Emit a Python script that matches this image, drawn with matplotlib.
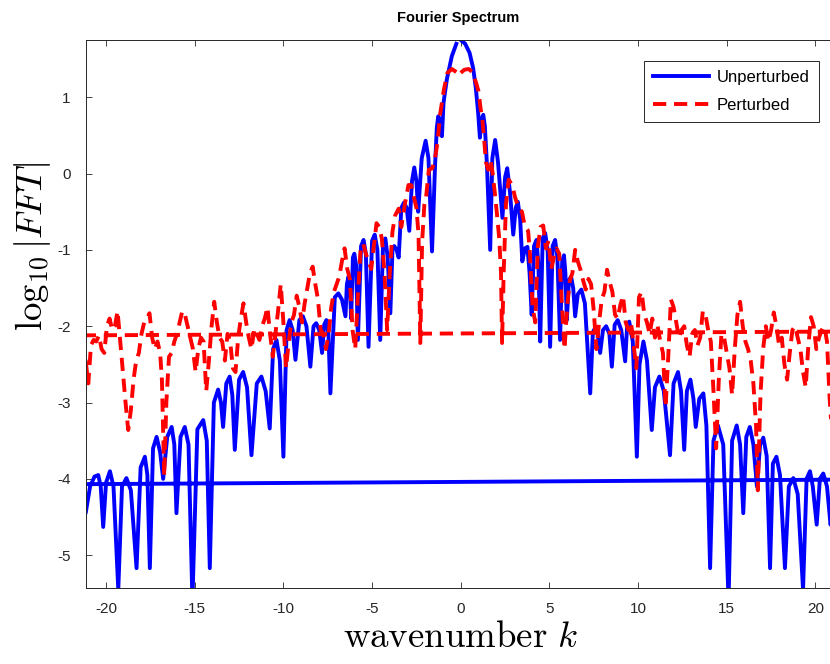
import matplotlib
matplotlib.use("Agg")
import matplotlib.pyplot as plt

# unperturbed spectrum, k >= 0 then k < 0 (fft ordering, so the line wraps)
blue_pos_k = [0.0, 0.25, 0.5, 0.7, 0.85, 0.98, 1.08, 1.18, 1.27, 1.36, 1.48, 1.66, 1.78, 1.94, 2.1,
              2.35, 2.5, 2.62, 2.78, 2.96, 3.1, 3.22, 3.35, 3.47, 3.62, 3.76, 3.88, 4.0, 4.13, 4.27,
              4.38, 4.48, 4.62, 4.76, 4.9, 5.04, 5.18, 5.32, 5.45, 5.6, 5.72, 5.82, 5.9, 5.98, 6.1,
              6.22, 6.34, 6.45, 6.6, 6.8, 7.0, 7.3, 7.45, 7.58, 7.72, 7.86, 8.02, 8.2, 8.38, 8.52,
              8.68, 8.85, 9.05, 9.27, 9.38, 9.5, 9.7, 9.93, 10.08, 10.3, 10.5, 10.77, 10.95, 11.2,
              11.45, 11.8, 12.0, 12.25, 12.42, 12.6, 12.75, 12.95, 13.12, 13.25, 13.45, 13.68, 13.85,
              14.06, 14.25, 14.5, 14.8, 15.1, 15.3, 15.56, 15.75, 15.93, 16.1, 16.3, 16.5, 16.7,
              16.88, 17.06, 17.25, 17.44, 17.6, 17.8, 18.0, 18.28, 18.5, 18.75, 19.0, 19.3, 19.5,
              19.69, 19.85, 20.07, 20.25, 20.44, 20.65, 20.85, 21.3]
blue_pos_v = [1.75, 1.70, 1.58, 1.38, 1.12, 0.80, 0.47, 0.72, 0.77, 0.62, 0.10, -1.00, 0.20, 0.44, 0.15,
              -0.58, -0.05, 0.07, -0.25, -0.80, -0.45, -0.37, -0.60, -1.15, -0.98, -0.96, -1.30, -1.85, -0.95, -0.87,
              -1.20, -2.20, -0.85, -0.78, -1.00, -2.27, -0.95, -0.87, -1.10, -2.18, -1.15, -1.07, -1.30, -1.92, -1.40,
              -1.35, -1.50, -1.87, -1.58, -1.52, -1.70, -2.88, -2.08, -2.02, -2.10, -2.35, -2.05, -2.00, -2.10, -2.53,
              -1.98, -1.92, -2.05, -2.46, -2.00, -1.94, -2.20, -3.71, -2.50, -2.20, -2.45, -3.36, -2.80, -2.66,
              -2.85, -3.69, -2.75, -2.60, -2.85, -3.62, -2.85, -2.70, -2.95, -3.32, -2.95, -2.88, -3.30,
              -5.17, -3.50, -3.30, -3.55, -5.60, -3.50, -3.30, -3.55, -4.45, -3.45, -3.32, -3.55, -4.10,
              -3.55, -3.46, -3.70, -5.17, -3.80, -3.71, -3.95, -5.17, -4.10, -3.99, -4.20, -5.45, -4.00,
              -3.90, -4.10, -4.60, -4.00, -3.93, -4.10, -4.60, -4.01]
blue_neg_k = [-21.5, -21.15, -20.9, -20.65, -20.44, -20.3, -20.16, -20.0, -19.78, -19.58, -19.31, -19.1,
              -18.85, -18.6, -18.28, -18.05, -17.81, -17.67, -17.53, -17.35, -17.15, -16.95, -16.78,
              -16.55, -16.3, -16.15, -16.03, -15.8, -15.56, -15.35, -15.13, -14.85, -14.52, -14.32,
              -14.15, -13.92, -13.68, -13.52, -13.4, -13.22, -13.03, -12.88, -12.74, -12.5, -12.27,
              -12.05, -11.8, -11.5, -11.24, -11.0, -10.77, -10.58, -10.39, -10.2, -10.0, -9.82, -9.65,
              -9.48, -9.32, -9.1, -8.9, -8.7, -8.48, -8.3, -8.15, -7.98, -7.82, -7.7, -7.58, -7.46,
              -7.35, -7.1, -6.9, -6.7, -6.5, -6.42, -6.33, -6.25, -6.18, -6.08, -6.0, -5.9, -5.8,
              -5.62, -5.48, -5.35, -5.2, -5.0, -4.85, -4.7, -4.54, -4.38, -4.25, -4.12, -3.97, -3.85,
              -3.75, -3.62, -3.5, -3.35, -3.2, -3.05, -2.9, -2.75, -2.62, -2.5, -2.4, -2.2, -1.98,
              -1.82, -1.62, -1.45, -1.35, -1.27, -1.17, -1.06, -0.97, -0.78, -0.5, -0.25]
blue_neg_v = [-4.07, -4.45, -4.10, -3.97, -3.95, -4.10, -4.63, -4.05, -3.90, -4.10, -5.45, -4.10,
              -3.99, -4.15, -5.17, -3.85, -3.71, -3.95, -5.17, -3.60, -3.45, -3.65, -4.00,
              -3.45, -3.32, -3.55, -4.45, -3.45, -3.32, -3.55, -5.60, -3.35, -3.23, -3.50,
              -5.17, -3.00, -2.83, -3.00, -3.32, -2.75, -2.66, -2.90, -3.62, -2.70, -2.60,
              -2.80, -3.69, -2.75, -2.66, -2.85, -3.34, -2.30, -2.18, -2.45, -3.71, -2.05, -1.92,
              -2.05, -2.44, -1.92, -1.87, -2.00, -2.53, -2.00, -1.96, -2.05, -2.35, -1.98, -1.92, -2.10,
              -2.88, -1.62, -1.57, -1.65, -1.87, -1.45, -1.35, -1.50, -1.90, -1.10, -1.05, -1.20, -2.18,
              -0.95, -0.87, -1.05, -2.27, -0.88, -0.80, -1.00, -2.18, -0.92, -0.85, -1.10, -1.83, -1.00,
              -0.95, -1.00, -1.10, -0.45, -0.38, -0.45, -0.75, -0.10, 0.08, -0.10, -0.50, 0.20, 0.43,
              0.20, -1.02, 0.10, 0.60, 0.75, 0.70, 0.49, 0.93, 1.24, 1.54, 1.70]

# perturbed spectrum, same ordering
red_pos_k = [0.0, 0.2, 0.45, 0.65, 0.85, 1.0, 1.12, 1.22, 1.32, 1.42,
             1.55, 1.68, 1.8, 1.92, 2.05, 2.17, 2.27, 2.33, 2.42, 2.55,
             2.7, 2.9, 3.05, 3.25, 3.45, 3.62, 3.8,
             3.9, 4.05, 4.2, 4.35, 4.5, 4.65, 4.8, 4.95, 5.1, 5.25,
             5.4, 5.55, 5.7, 5.85, 6.0, 6.15, 6.3, 6.45, 6.6, 6.75,
             6.9, 7.05, 7.2, 7.35, 7.5, 7.65, 7.8, 7.95, 8.1, 8.25,
             8.4, 8.55, 8.7, 8.85, 9.0, 9.15, 9.3, 9.45, 9.6, 9.75,
             9.9, 10.05, 10.2, 10.35, 10.5, 10.65, 10.8, 10.95, 11.1, 11.25,
             11.4, 11.55, 11.7, 11.85, 12.0, 12.15, 12.3, 12.45, 12.6, 12.75,
             12.9, 13.05, 13.2, 13.35, 13.5, 13.65, 13.8, 13.95, 14.1, 14.25,
             14.4, 14.55, 14.7, 14.85, 15.0, 15.15, 15.3, 15.45, 15.6, 15.75,
             15.9, 16.05, 16.2, 16.35, 16.5, 16.65, 16.75, 16.9, 17.05, 17.2,
             17.35, 17.5, 17.65, 17.8, 17.95, 18.1, 18.25, 18.4, 18.55, 18.7,
             18.85, 19.0, 19.15, 19.3, 19.45, 19.6, 19.75, 19.9, 20.05, 20.2,
             20.35, 20.5, 20.65, 20.8, 20.9, 21.3]
red_pos_v = [1.32, 1.36, 1.37, 1.33, 1.20, 1.08, 0.85, 0.70, 0.45, 0.15,
             0.05, 0.18, 0.00, -0.25, -0.55, -0.85, -1.30, -2.22, -1.30, -0.40,
             -0.08, -0.15, -0.30, -0.45, -0.50, -0.70, -0.75,
             -1.05, -1.75, -1.95, -0.95, -0.70, -0.68, -0.98, -0.88, -1.25, -1.10,
             -0.98, -1.05, -1.70, -2.30, -1.75, -1.40, -1.30, -1.00, -1.15, -1.26,
             -1.40, -1.52, -1.38, -1.45, -1.80, -2.30, -1.95, -1.65, -1.55, -1.26,
             -1.42, -1.55, -1.85, -1.90, -1.72, -1.60, -1.95, -2.05, -1.95, -2.25,
             -2.55, -1.62, -1.55, -1.85, -1.95, -2.10, -1.90, -2.15, -2.00, -2.20,
             -2.35, -3.06, -2.40, -1.65, -1.75, -1.95, -2.15, -2.05, -2.00, -2.25,
             -2.40, -2.10, -2.05, -2.25, -2.15, -1.80, -1.85, -2.05, -2.20, -2.85,
             -3.60, -2.70, -2.10, -2.15, -2.35, -2.55, -2.90, -2.30, -1.85, -1.68,
             -2.00, -2.20, -2.30, -2.45, -2.75, -3.30, -4.15, -2.90, -2.30, -2.00,
             -2.20, -2.05, -1.82, -2.00, -2.25, -2.15, -2.50, -2.70, -2.35, -2.05,
             -2.00, -2.15, -2.30, -2.60, -2.80, -2.25, -1.88, -2.00, -2.30, -2.15,
             -2.05, -2.00, -2.20, -2.95, -3.30, -2.07]
red_neg_k = [-21.5, -21.15, -21.0, -20.85, -20.7, -20.55, -20.4, -20.25, -20.1, -19.95,
             -19.8, -19.65, -19.5, -19.35, -19.2, -19.05, -18.9, -18.75, -18.6, -18.45,
             -18.3, -18.15, -18.0, -17.85, -17.7, -17.55, -17.4, -17.25, -17.1, -16.95,
             -16.85, -16.72, -16.6, -16.45, -16.3, -16.15, -16.0, -15.85, -15.7, -15.55,
             -15.4, -15.25, -15.1, -14.95, -14.8, -14.65, -14.5, -14.35, -14.2, -14.05,
             -13.9, -13.75, -13.6, -13.45, -13.3, -13.15, -13.0, -12.85, -12.7, -12.55,
             -12.4, -12.25, -12.1, -11.95, -11.8, -11.65, -11.5, -11.35, -11.2, -11.05,
             -10.9, -10.75, -10.6, -10.45, -10.3, -10.15, -10.0, -9.85, -9.7, -9.55,
             -9.4, -9.25, -9.1, -8.95, -8.8, -8.65, -8.5, -8.35, -8.2, -8.05,
             -7.9, -7.75, -7.6, -7.45, -7.3, -7.15, -7.0, -6.85, -6.7, -6.55,
             -6.4, -6.25, -6.1, -5.95, -5.8, -5.65, -5.5, -5.35, -5.2, -5.05,
             -4.9, -4.75, -4.6, -4.45, -4.3, -4.15, -4.0, -3.85, -3.7, -3.5,
             -3.35, -3.15, -2.95, -2.8, -2.65, -2.5, -2.38, -2.28, -2.18, -2.05,
             -1.95, -1.8, -1.6, -1.45, -1.3, -1.18, -1.05, -0.95, -0.75, -0.5,
             -0.25]
red_neg_v = [-2.12, -2.45, -2.75, -2.25, -2.18, -2.20, -2.12, -2.30, -2.35, -2.00,
             -1.90, -2.05, -2.00, -1.80, -2.20, -2.60, -3.00, -3.36, -3.10, -2.70,
             -2.45, -2.35, -2.10, -1.95, -1.90, -1.83, -2.15, -2.30, -2.20, -2.35,
             -2.70, -3.97, -3.00, -2.40, -2.35, -2.20, -2.10, -1.95, -1.80, -1.85,
             -2.00, -2.15, -2.30, -2.60, -2.30, -2.15, -2.20, -2.85, -2.45, -2.00,
             -1.68, -1.95, -2.15, -2.20, -2.45, -2.10, -2.20, -2.55, -2.60, -2.15,
             -1.90, -1.70, -1.95, -2.15, -2.30, -2.05, -2.10, -2.18, -2.00, -1.90,
             -1.75, -2.10, -2.40, -2.10, -1.80, -1.45, -1.95, -2.55, -2.20, -1.95,
             -1.85, -1.60, -1.75, -1.95, -1.70, -1.50, -1.30, -1.22, -1.45, -1.65,
             -2.05, -2.10, -2.30, -2.10, -1.75, -1.55, -1.45, -1.35, -1.15, -0.98,
             -1.25, -1.38, -2.05, -2.30, -1.60, -1.00, -0.92, -1.05, -1.15, -1.25,
             -0.95, -0.65, -0.70, -0.85, -1.30, -2.05, -1.30, -0.76, -0.55, -0.46,
             -0.70, -0.40, -0.15, -0.15, -0.30, -0.45, -0.80, -2.22, -0.90, -0.40,
             -0.30, 0.05, 0.07, 0.20, 0.42, 0.75, 0.95, 1.10, 1.32, 1.37,
             1.33]

x_ticks = [-20, -15, -10, -5, 0, 5, 10, 15, 20]
y_ticks = [-5, -4, -3, -2, -1, 0, 1]

plt.rcParams['font.family'] = ['Liberation Sans', 'DejaVu Sans']
plt.rcParams['mathtext.fontset'] = 'cm'
plt.rcParams['axes.unicode_minus'] = False

fig = plt.figure(figsize=(8.3, 6.64), dpi=100)
ax = fig.add_axes([86 / 830, 1 - 588 / 664, 1 - 86 / 830, 548 / 664])

ax.plot(blue_pos_k + blue_neg_k, blue_pos_v + blue_neg_v, color=(0, 0, 1), lw=2.8,
        label='Unperturbed')
ax.plot(red_pos_k + red_neg_k, red_pos_v + red_neg_v, color=(1, 0, 0), lw=2.8,
        dashes=(3.4, 2.0), label='Perturbed')

ax.set_xlim(-21.13, 20.82)
ax.set_ylim(-5.43, 1.75)
ax.set_xticks(x_ticks)
ax.set_yticks(y_ticks)
ax.tick_params(direction='in', length=4, width=0.6, colors=(0.15, 0.15, 0.15),
               labelsize=11, top=True)
ax.tick_params(axis='x', pad=10)
ax.tick_params(axis='y', pad=11)
for s in ['left', 'top', 'bottom']:
    ax.spines[s].set_color((0.15, 0.15, 0.15))
    ax.spines[s].set_linewidth(0.7)
ax.spines['right'].set_visible(False)

ax.set_title('Fourier Spectrum', fontsize=10.5, fontweight='bold', pad=13)
ax.set_xlabel(r'$\mathrm{wavenumber}\ k$', fontsize=26.5)
ax.set_ylabel(r'$\log_{10}|FFT|$', fontsize=26.5)
ax.xaxis.set_label_coords(0.503, -0.058)
ax.yaxis.set_label_coords(-0.045, 0.624)

leg = ax.legend(loc='upper right', bbox_to_anchor=(819 / 830, 1 - 61 / 664),
                bbox_transform=fig.transFigure, fontsize=12, handlelength=3.4,
                handletextpad=0.45, borderpad=0.55, labelspacing=0.75, borderaxespad=0,
                fancybox=False, framealpha=1, edgecolor=(0.15, 0.15, 0.15))
leg.get_frame().set_linewidth(0.7)

fig.savefig('out.png', dpi=100)
